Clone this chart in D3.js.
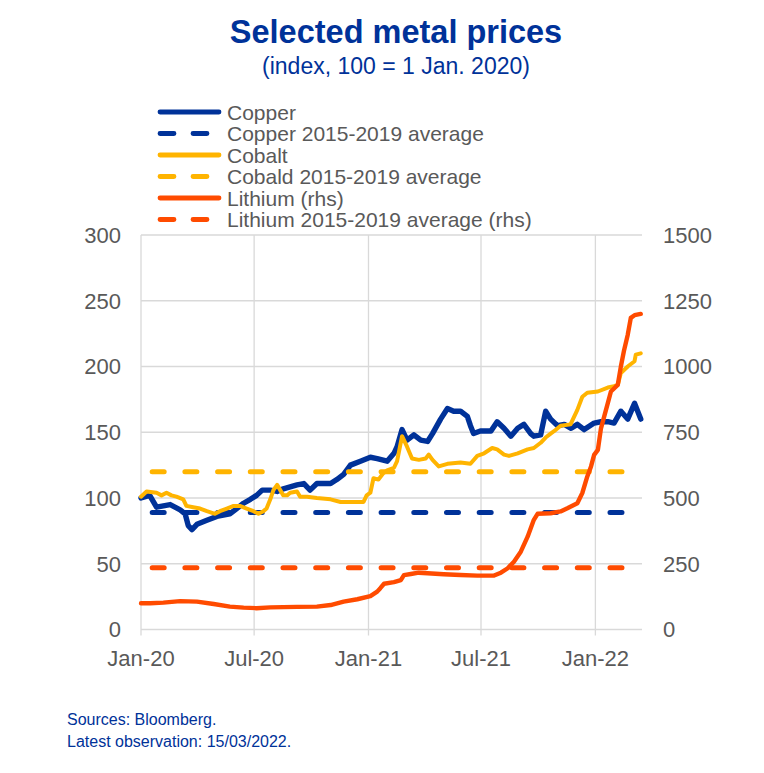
<!DOCTYPE html>
<html>
<head>
<meta charset="utf-8">
<script src="https://cdn.jsdelivr.net/npm/d3@7"></script>
<style>
  body { margin: 0; background: #fff; }
  text { font-family: "Liberation Sans", Arial, sans-serif; }
</style>
</head>
<body>
<div id="chart-area"></div>
<script>
// values (index, 100 = 1 Jan 2020)
let copperDates = ["2020-01-01","2020-01-15","2020-01-26","2020-02-06","2020-02-17","2020-03-04","2020-03-12","2020-03-17","2020-03-23","2020-03-31","2020-04-16","2020-05-02","2020-05-23","2020-06-03","2020-06-14","2020-06-25","2020-07-05","2020-07-14","2020-07-27","2020-08-07","2020-08-17","2020-09-08","2020-09-19","2020-09-29","2020-10-10","2020-11-01","2020-11-11","2020-11-22","2020-12-03","2020-12-19","2021-01-04","2021-01-15","2021-01-31","2021-02-11","2021-02-16","2021-02-24","2021-03-04","2021-03-15","2021-03-26","2021-04-06","2021-04-14","2021-04-27","2021-05-08","2021-05-18","2021-05-29","2021-06-09","2021-06-14","2021-06-19","2021-06-30","2021-07-17","2021-07-27","2021-08-07","2021-08-18","2021-08-29","2021-09-08","2021-09-19","2021-09-24","2021-10-05","2021-10-13","2021-10-21","2021-11-01","2021-11-12","2021-11-23","2021-12-03","2021-12-14","2021-12-30","2022-01-10","2022-01-21","2022-01-31","2022-02-11","2022-02-22","2022-03-05","2022-03-15"];
let copperValues = [100,102,93,94,95,91,88,79,76,80,83,86,88,92,96,99,102,106,106,105,107,110,111,106,111,111,114,118,125,128,131,130,128,134,139,152,144,148,144,143,149,160,168,166,166,162,155,149,151,151,158,153,147,153,156,149,147,148,166,160,155,156,153,156,152,157,158,158,157,166,160,172,160];

let cobaltDates = ["2020-01-01","2020-01-10","2020-01-26","2020-02-03","2020-02-11","2020-02-19","2020-02-27","2020-03-09","2020-03-14","2020-03-25","2020-04-05","2020-04-16","2020-04-29","2020-05-07","2020-05-18","2020-05-29","2020-06-08","2020-06-19","2020-06-30","2020-07-08","2020-07-16","2020-07-21","2020-07-27","2020-08-01","2020-08-07","2020-08-12","2020-08-17","2020-08-23","2020-08-28","2020-09-08","2020-09-13","2020-09-24","2020-10-10","2020-11-01","2020-11-17","2020-12-03","2020-12-24","2020-12-29","2021-01-04","2021-01-09","2021-01-17","2021-01-25","2021-01-31","2021-02-11","2021-02-16","2021-02-24","2021-03-04","2021-03-12","2021-03-23","2021-04-03","2021-04-08","2021-04-14","2021-04-24","2021-05-08","2021-05-29","2021-06-14","2021-06-25","2021-07-06","2021-07-19","2021-07-27","2021-08-07","2021-08-15","2021-08-29","2021-09-14","2021-09-24","2021-10-05","2021-10-13","2021-10-21","2021-10-27","2021-11-06","2021-11-22","2021-12-03","2021-12-11","2021-12-19","2022-01-05","2022-01-21","2022-01-31","2022-02-06","2022-02-11","2022-02-22","2022-03-05","2022-03-07","2022-03-15"];
let cobaltValues = [101,105,104,102,104,102,101,99,94,93,92,90,88,90,92,94,94,92,90,88,90,92,99,106,110,106,102,102,104,105,101,101,100,99,97,97,97,102,104,115,114,119,121,123,128,147,139,130,129,130,133,129,124,126,127,126,132,134,138,137,133,132,134,137,138,142,146,149,151,155,156,167,177,180,181,184,185,186,195,200,204,209,210];

let lithiumDates = ["2020-01-01","2020-01-16","2020-02-06","2020-03-04","2020-03-31","2020-04-27","2020-05-23","2020-06-14","2020-07-05","2020-07-27","2020-08-17","2020-09-08","2020-10-10","2020-11-01","2020-11-22","2020-12-14","2021-01-04","2021-01-15","2021-01-20","2021-01-26","2021-02-11","2021-02-22","2021-02-27","2021-03-10","2021-03-23","2021-04-06","2021-05-02","2021-05-29","2021-06-25","2021-07-22","2021-08-02","2021-08-13","2021-08-23","2021-09-03","2021-09-14","2021-09-24","2021-09-30","2021-10-21","2021-11-06","2021-11-17","2021-12-03","2021-12-11","2021-12-19","2021-12-25","2021-12-30","2022-01-05","2022-01-10","2022-01-21","2022-01-26","2022-02-06","2022-02-11","2022-02-16","2022-02-22","2022-02-27","2022-03-05","2022-03-15"];
let lithiumValues = [100,100,102,108,106,97,87,83,81,84,85,86,87,93,106,115,127,144,157,174,180,188,207,211,216,214,210,207,205,205,216,233,258,296,353,417,440,442,449,461,480,519,582,620,664,683,765,861,905,930,1000,1060,1120,1185,1195,1200];

// 2015-2019 averages
let avgPeriod = ["2020-01-19", "2022-02-15"];
let copperAvg = 89;
let cobaltAvg = 120;
let lithiumAvg = 235;

let leftTicks = [0, 50, 100, 150, 200, 250, 300];
let rightTicks = [0, 250, 500, 750, 1000, 1250, 1500];
let xTickDates = ["2020-01-01", "2020-07-01", "2021-01-01", "2021-07-01", "2022-01-01"];
let xTickLabels = ["Jan-20", "Jul-20", "Jan-21", "Jul-21", "Jan-22"];

let legendLabels = ["Copper", "Copper 2015-2019 average", "Cobalt", "Cobald 2015-2019 average", "Lithium (rhs)", "Lithium 2015-2019 average (rhs)"];

let blue = "#003299", yellow = "#ffb400", orange = "#ff4b00", grey = "#595959";

let W = 764, H = 773;
let margin = { top: 235, right: 122, bottom: 143.5, left: 141 };
let width = W - margin.left - margin.right,
  height = H - margin.top - margin.bottom;

let parse = d3.timeParse("%Y-%m-%d");

let svg = d3
  .select("#chart-area")
  .append("svg")
  .attr("width", W)
  .attr("height", H);

let g = svg
  .append("g")
  .attr("transform", "translate(" + margin.left + "," + margin.top + ")");

let xScale = d3
  .scaleTime()
  .domain([parse("2020-01-01"), parse("2022-03-17")])
  .range([0, width]);

let yLeft = d3.scaleLinear().domain([0, 300]).range([height, 0]);
let yRight = d3.scaleLinear().domain([0, 1500]).range([height, 0]);

// grid
g.selectAll(".hgrid")
  .data(leftTicks)
  .enter()
  .append("line")
  .attr("x1", 0)
  .attr("x2", width)
  .attr("y1", d => yLeft(d))
  .attr("y2", d => yLeft(d))
  .attr("stroke", "#d9d9d9")
  .attr("stroke-width", 1.3);

g.selectAll(".vgrid")
  .data(xTickDates)
  .enter()
  .append("line")
  .attr("x1", d => xScale(parse(d)))
  .attr("x2", d => xScale(parse(d)))
  .attr("y1", 0)
  .attr("y2", height + 6)
  .attr("stroke", "#d9d9d9")
  .attr("stroke-width", 1.3);

// axis labels
g.selectAll(".ltick")
  .data(leftTicks)
  .enter()
  .append("text")
  .attr("x", -20)
  .attr("y", d => yLeft(d))
  .attr("dy", "0.36em")
  .attr("text-anchor", "end")
  .attr("fill", grey)
  .style("font-size", "22px")
  .text(d => d);

g.selectAll(".rtick")
  .data(rightTicks)
  .enter()
  .append("text")
  .attr("x", width + 21)
  .attr("y", d => yRight(d))
  .attr("dy", "0.36em")
  .attr("text-anchor", "start")
  .attr("fill", grey)
  .style("font-size", "22px")
  .text(d => d);

g.selectAll(".xtick")
  .data(xTickDates)
  .enter()
  .append("text")
  .attr("x", d => xScale(parse(d)))
  .attr("y", height + 36)
  .attr("text-anchor", "middle")
  .attr("fill", grey)
  .style("font-size", "22px")
  .text((d, i) => xTickLabels[i]);

// lines
function series(dates, values) {
  return dates.map((d, i) => ({ date: parse(d), value: values[i] }));
}

let lineLeft = d3.line().x(d => xScale(d.date)).y(d => yLeft(d.value));
let lineRight = d3.line().x(d => xScale(d.date)).y(d => yRight(d.value));

function drawLine(data, gen, color, w, dashed) {
  let p = g.append("path")
    .datum(data)
    .attr("d", gen)
    .attr("fill", "none")
    .attr("stroke", color)
    .attr("stroke-width", w)
    .attr("stroke-linejoin", "round")
    .attr("stroke-linecap", "round");
  if (dashed) p.attr("stroke-dasharray", "12,20.7");
}

let avgData = v => avgPeriod.map(d => ({ date: parse(d), value: v }));

drawLine(series(copperDates, copperValues), lineLeft, blue, 5.4, false);
drawLine(avgData(copperAvg), lineLeft, blue, 5, true);
drawLine(series(cobaltDates, cobaltValues), lineLeft, yellow, 4, false);
drawLine(avgData(cobaltAvg), lineLeft, yellow, 5, true);
drawLine(series(lithiumDates, lithiumValues), lineRight, orange, 4.4, false);
drawLine(avgData(lithiumAvg), lineRight, orange, 5, true);

// title
svg.append("text")
  .attr("x", 396)
  .attr("y", 43)
  .attr("text-anchor", "middle")
  .attr("fill", blue)
  .style("font-size", "32.5px")
  .style("font-weight", "bold")
  .text("Selected metal prices");

svg.append("text")
  .attr("x", 396)
  .attr("y", 74)
  .attr("text-anchor", "middle")
  .attr("fill", blue)
  .style("font-size", "23px")
  .text("(index, 100 = 1 Jan. 2020)");

// legend
let legendColors = [blue, blue, yellow, yellow, orange, orange];
let legend = svg.append("g").attr("transform", "translate(158,112)");
legendLabels.forEach(function(label, i) {
  let row = legend.append("g").attr("transform", "translate(0," + i * 21.5 + ")");
  let l = row.append("line")
    .attr("x1", 2).attr("x2", 61)
    .attr("stroke", legendColors[i])
    .attr("stroke-width", 4.8)
    .attr("stroke-linecap", "round");
  if (i % 2 === 1) l.attr("x2", 50).attr("stroke-dasharray", "14,19");
  row.append("text")
    .attr("x", 69)
    .attr("dy", "0.36em")
    .attr("fill", grey)
    .style("font-size", "21px")
    .text(label);
});

// footnotes
svg.append("text")
  .attr("x", 67)
  .attr("y", 725)
  .attr("fill", blue)
  .style("font-size", "16px")
  .text("Sources: Bloomberg.");

svg.append("text")
  .attr("x", 67)
  .attr("y", 747)
  .attr("fill", blue)
  .style("font-size", "16px")
  .text("Latest observation: 15/03/2022.");
</script>
</body>
</html>
